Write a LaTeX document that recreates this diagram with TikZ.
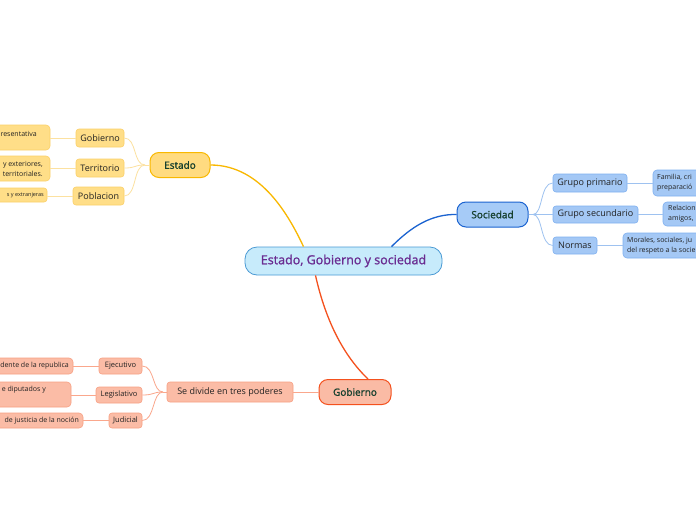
\documentclass[tikz,border=0pt]{standalone}
\usepackage{fontspec}
\setmainfont{Open Sans}
\definecolor{cfill}{HTML}{C7EBFB}
\definecolor{cdraw}{HTML}{4A9AD4}
\definecolor{ctext}{HTML}{6A2C91}
\definecolor{yfill}{HTML}{FFDB80}
\definecolor{ydraw}{HTML}{F9B800}
\definecolor{ycfill}{HTML}{FFDE88}
\definecolor{ycdraw}{HTML}{FBD068}
\definecolor{yline}{HTML}{FCE1A0}
\definecolor{rfill}{HTML}{FABBA5}
\definecolor{rdraw}{HTML}{F4511E}
\definecolor{rcfill}{HTML}{FBBCA6}
\definecolor{rcdraw}{HTML}{F8A083}
\definecolor{rline}{HTML}{FAA78C}
\definecolor{bfill}{HTML}{A6CBF7}
\definecolor{bdraw}{HTML}{1B63D0}
\definecolor{bcfill}{HTML}{A4C8F5}
\definecolor{bcdraw}{HTML}{7FB0F0}
\definecolor{bline}{HTML}{9EC2F0}
\definecolor{maintext}{HTML}{16402E}
\definecolor{ktext}{HTML}{222222}
\tikzset{
  box/.style={rectangle, inner sep=0pt, font=\fontsize{9}{11}\selectfont, text=ktext},
  mainbox/.style={box, rounded corners=9pt, line width=1pt, font=\fontsize{10}{12}\selectfont\addfontfeature{FakeBold=1.5}, text=maintext},
  ychild/.style={box, rounded corners=3pt, fill=ycfill, draw=ycdraw, line width=0.6pt},
  rchild/.style={box, rounded corners=3pt, fill=rcfill, draw=rcdraw, line width=0.6pt},
  bchild/.style={box, rounded corners=3pt, fill=bcfill, draw=bcdraw, line width=0.6pt},
  gtxt/.style={inner sep=0pt, font=\fontsize{7}{10}\selectfont, text=ktext},
  yln/.style={draw=yline, line width=0.8pt},
  rln/.style={draw=rline, line width=0.8pt},
  bln/.style={draw=bline, line width=0.8pt},
}
\begin{document}
\begin{tikzpicture}[x=1pt,y=-1pt]
\useasboundingbox (0,0) rectangle (696,520);
\fill[white] (0,0) rectangle (696,520);
\clip (0,0) rectangle (696,520);

% central
\node[rectangle, rounded corners=12pt, fill=cfill, draw=cdraw, line width=0.8pt,
      minimum width=197pt, minimum height=28pt, inner sep=0pt,
      font=\fontsize{12.5}{14}\selectfont\addfontfeature{FakeBold=1.2}, text=ctext] (central) at (343.5,261) {Estado, Gobierno y sociedad};

% main branches
\node[mainbox, fill=yfill, draw=ydraw, minimum width=60pt, minimum height=25pt] (estado) at (180,165) {Estado};
\node[mainbox, fill=rfill, draw=rdraw, minimum width=72pt, minimum height=25pt] (gob) at (355,392) {Gobierno};
\node[mainbox, fill=bfill, draw=bdraw, minimum width=71pt, minimum height=25pt] (soc) at (492.5,214.5) {Sociedad};

\draw[draw=ydraw, line width=1.3pt] (estado.east) .. controls (262,165) and (290,218) .. ([xshift=-40pt]central.north);
\draw[draw=bdraw, line width=1.3pt] ([xshift=48pt]central.north) .. controls (412,226) and (432,214) .. (soc.west);
\draw[draw=rdraw, line width=1.3pt] ([xshift=-28pt]central.south) .. controls (326,322) and (344,356) .. ([xshift=13pt]gob.north);

% Estado children
\node[ychild, minimum width=48pt, minimum height=18pt] (egob) at (100,138) {Gobierno};
\node[ychild, minimum width=48pt, minimum height=18pt] (eter) at (100,168) {Territorio};
\node[ychild, minimum width=51pt, minimum height=18pt] (epob) at (98.5,196) {Poblacion};
\coordinate (ej) at (145,165);
\path[yln] (estado.west) -- (ej);
\foreach \c in {egob,eter,epob}{
  \path[yln] (ej) .. controls (133,165) and (137,0|-\c.east) .. (\c.east);
}
% Estado grandchildren
\node[ychild, rounded corners=4pt, minimum width=110pt, minimum height=25pt] (e1) at (-5,137.5) {};
\node[ychild, rounded corners=4pt, minimum width=110pt, minimum height=25pt] (e2) at (-5,168.5) {};
\node[ychild, rounded corners=3pt, minimum width=87pt, minimum height=14pt] (e3) at (3.5,195) {};
\node[gtxt, anchor=east] (e1t) at (37,134) {resentativa};
\node[gtxt, anchor=east, align=right] (e2t) at (43,168.5) {y exteriores,\\territoriales.};
\node[gtxt, anchor=east, font=\fontsize{5.5}{6}\selectfont] (e3t) at (44,195) {s y extranjeras};
\path[yln] (egob.west) -- (e1.east |- egob.west);
\path[yln] (eter.west) -- (e2.east |- eter.west);
\path[yln] (epob.west) -- (e3.east |- epob.west);

% Gobierno branch
\node[rchild, minimum width=126pt, minimum height=20pt] (div) at (230,392) {Se divide en tres poderes};
\path[rln] (gob.west) -- (div.east);
\node[rchild, minimum width=43pt, minimum height=16pt, font=\fontsize{7.5}{9}\selectfont] (gej) at (120.5,366) {Ejecutivo};
\node[rchild, minimum width=46pt, minimum height=16pt, font=\fontsize{7.5}{9}\selectfont] (gle) at (119,395) {Legislativo};
\node[rchild, minimum width=33pt, minimum height=15pt, font=\fontsize{7.5}{9}\selectfont] (gju) at (125.5,420.5) {Judicial};
\coordinate (gj) at (163,392);
\path[rln] (div.west) -- (gj);
\foreach \c in {gej,gle,gju}{
  \path[rln] (gj) .. controls (152,392) and (155,0|-\c.east) .. (\c.east);
}
\node[rchild, rounded corners=4pt, minimum width=113pt, minimum height=16pt] (j1) at (16.5,366) {};
\node[rchild, rounded corners=4pt, minimum width=131pt, minimum height=25pt] (j2) at (5.5,394.5) {};
\node[rchild, rounded corners=4pt, minimum width=123pt, minimum height=15pt] (j3) at (21.5,420.5) {};
\node[gtxt, anchor=east] (j1t) at (69,366) {dente de la republica};
\node[gtxt, anchor=east] (j2t) at (46,390) {e diputados y};
\node[gtxt, anchor=east] (j3t) at (79,421) {de justicia de la noción};
\path[rln] (gej.west) -- (j1.east |- gej.west);
\path[rln] (gle.west) -- (j2.east |- gle.west);
\path[rln] (gju.west) -- (j3.east |- gju.west);

% Sociedad branch
\node[bchild, minimum width=74pt, minimum height=18pt] (sgp) at (590,183) {Grupo primario};
\node[bchild, minimum width=85pt, minimum height=17pt] (sgs) at (595.5,214.5) {Grupo secundario};
\node[bchild, minimum width=44pt, minimum height=17pt] (sno) at (575,245.5) {Normas};
\coordinate (sj) at (533,214.5);
\path[bln] (soc.east) -- (sj);
\foreach \c in {sgp,sgs,sno}{
  \path[bln] (sj) .. controls (543,214.5) and (540,0|-\c.west) .. (\c.west);
}
\node[bchild, rounded corners=4pt, minimum width=107pt, minimum height=26pt] (s1) at (706.5,183) {};
\node[bchild, rounded corners=4pt, minimum width=107pt, minimum height=24pt] (s2) at (716.5,214) {};
\node[bchild, rounded corners=4pt, minimum width=117pt, minimum height=25pt] (s3) at (681.5,245.5) {};
\node[gtxt, anchor=west, align=left] (s1t) at (657,183) {Familia, cri\\preparació};
\node[gtxt, anchor=west, align=left] (s2t) at (668,214) {Relacion\\amigos,};
\node[gtxt, anchor=west, align=left] (s3t) at (627,245.5) {Morales, sociales, ju\\del respeto a la socie};
\path[bln] (sgp.east) -- (s1.west |- sgp.east);
\path[bln] (sgs.east) -- (s2.west |- sgs.east);
\path[bln] (sno.east) -- (s3.west |- sno.east);
\end{tikzpicture}
\end{document}
